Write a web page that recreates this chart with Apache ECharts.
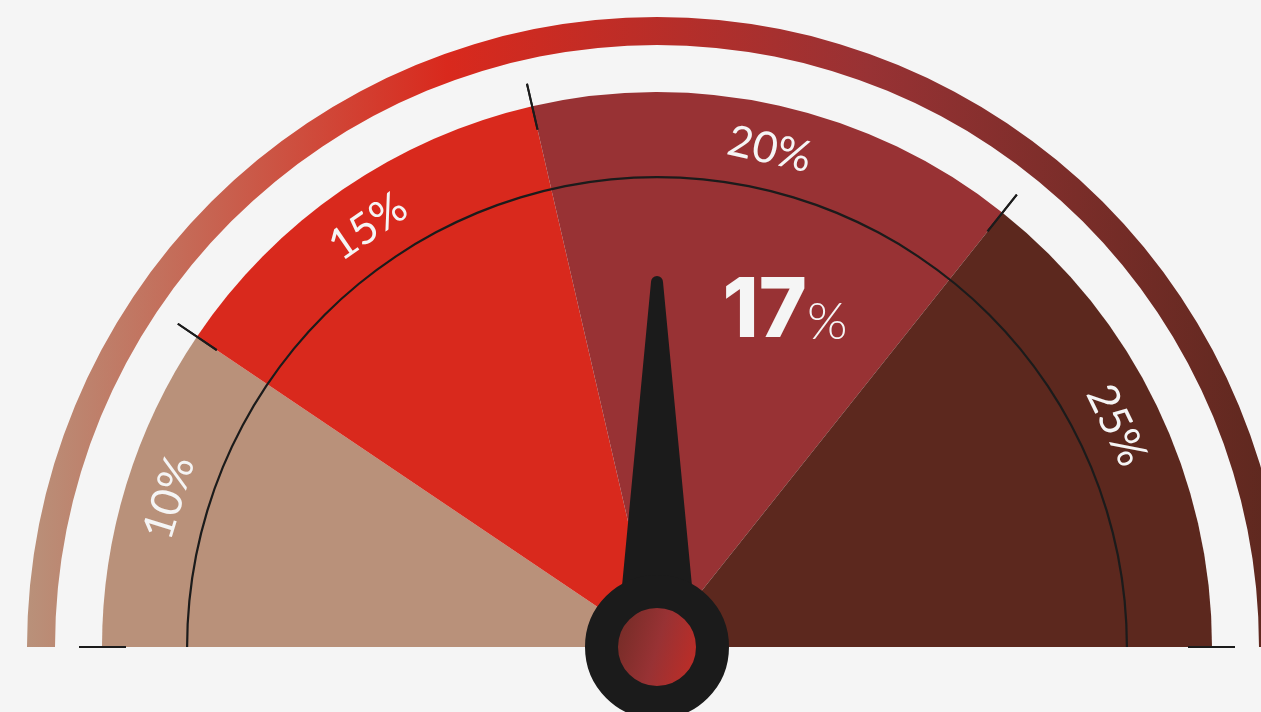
<!DOCTYPE html>
<html>
<head>
<meta charset="utf-8">
<script src="https://cdn.jsdelivr.net/npm/echarts@6/dist/echarts.min.js"></script>
<style>
html,body{margin:0;padding:0;background:#f5f5f5;}
#chart{width:1261px;height:712px;}
</style>
</head>
<body>
<div id="chart"></div>
<script>
// ---- data ----
const bandLabels = ['10%', '15%', '20%', '25%'];
const bandSpans = [34, 43, 51.5, 51.5];      // share of the 180° dial taken by each band
const needleScale = [0, 34];                  // dial scale used by the needle
const needleValue = 17;
const valueUnit = '%';

// ---- styles ----
const bandColors = ['#B9917A', '#D9291D', '#983234', '#5C281E'];
const ink = '#1B1B1B';
const bg = '#F5F5F5';
const center = [657, 647];

const chart = echarts.init(document.getElementById('chart'), null, {renderer: 'canvas'});

const arcGradient = new echarts.graphic.LinearGradient(0, 0, 1, 0, [
  {offset: 0, color: bandColors[0]},
  {offset: 1 / 3, color: bandColors[1]},
  {offset: 2 / 3, color: bandColors[2]},
  {offset: 1, color: bandColors[3]}
]);
const hubGradient = new echarts.graphic.LinearGradient(0, 0.35, 1, 0.65, [
  {offset: 0, color: bandColors[3]},
  {offset: 0.5, color: bandColors[2]},
  {offset: 1, color: bandColors[1]}
]);

const hidden = {value: 180, name: '', itemStyle: {color: 'rgba(0,0,0,0)'}, label: {show: false}};

const bandData = bandLabels.map((name, i) => ({
  name: name, value: bandSpans[i], itemStyle: {color: bandColors[i]}
}));

const baseGauge = {
  type: 'gauge', center: center, silent: true,
  axisLine: {show: false, lineStyle: {width: 0}},
  axisTick: {show: false}, splitLine: {show: false}, axisLabel: {show: false},
  pointer: {show: false}, anchor: {show: false}, title: {show: false}, detail: {show: false},
  data: [{value: 0}]
};

// tick gauges: one per band, with split lines at its two edges
let acc = 180;
const tickSeries = bandSpans.map((span) => {
  const s = acc; acc -= span;
  return Object.assign({}, baseGauge, {
    startAngle: s, endAngle: acc, radius: 578, splitNumber: 1, z: 5,
    splitLine: {show: true, distance: 0, length: 47, lineStyle: {color: ink, width: 2}}
  });
});

const option = {
  backgroundColor: bg,
  animation: false,
  series: [
    { // outer gradient arc
      type: 'pie', center: center, radius: [602, 630], startAngle: 180, silent: true,
      label: {show: false}, labelLine: {show: false},
      itemStyle: {borderWidth: 0},
      data: [{value: 180, name: 'arc', itemStyle: {color: arcGradient}}, hidden]
    },
    { // coloured bands
      type: 'pie', center: center, radius: [0, 555], startAngle: 180, silent: true,
      label: {show: false}, labelLine: {show: false},
      itemStyle: {borderWidth: 0},
      data: bandData.concat([hidden])
    },
    { // band labels
      type: 'pie', center: center, radius: [490, 524], startAngle: 180, silent: true, z: 4,
      itemStyle: {color: 'rgba(0,0,0,0)', borderWidth: 0},
      labelLine: {show: false},
      label: {
        show: true, position: 'inside', rotate: 'tangential',
        formatter: '{b}', color: bg, fontSize: 43, fontFamily: 'Lato', fontWeight: 400
      },
      data: bandLabels.map((name, i) => ({name: name, value: bandSpans[i]})).concat([hidden])
    },
    Object.assign({}, baseGauge, { // thin inner circle
      startAngle: 180, endAngle: 0, radius: 471, z: 3,
      axisLine: {show: true, lineStyle: {width: 2.2, color: [[1, ink]]}}
    }),
    ...tickSeries,
    Object.assign({}, baseGauge, { // needle, hub, value
      startAngle: 180, endAngle: 0, radius: 555, z: 6,
      min: needleScale[0], max: needleScale[1],
      pointer: {
        show: true,
        icon: 'path://M29,6 A6,6 0 0 1 41,6 L70,310 L70,371 L0,371 L0,310 Z',
        length: 371, width: 70, keepAspect: false, offsetCenter: [0, 0],
        itemStyle: {color: ink}
      },
      anchor: {
        show: true, showAbove: true, size: 111, icon: 'circle',
        itemStyle: {color: hubGradient, borderColor: ink, borderWidth: 33}
      },
      detail: {
        show: true, offsetCenter: [128, -335], valueAnimation: false,
        formatter: (v) => '{a|' + v + '}{b|' + valueUnit + '}',
        rich: {
          a: {fontSize: 82, fontWeight: 800, fontFamily: 'Inter', color: bg, verticalAlign: 'bottom', lineHeight: 82},
          b: {fontSize: 52, fontWeight: 300, fontFamily: 'Lato', color: bg, verticalAlign: 'bottom', lineHeight: 52, padding: [0, 0, 5, 0]}
        }
      },
      data: [{value: needleValue}]
    })
  ]
};
chart.setOption(option);
</script>
</body>
</html>
